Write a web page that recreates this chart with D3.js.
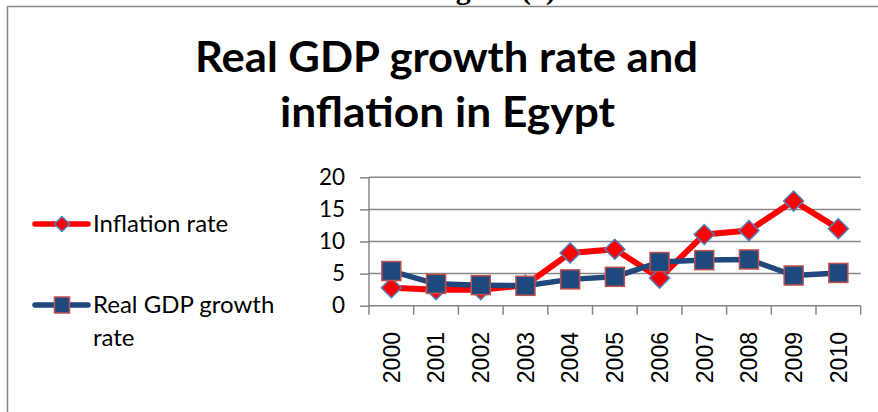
<!DOCTYPE html>
<html>
<head>
<meta charset="utf-8">
<script src="https://cdn.jsdelivr.net/npm/d3@7"></script>
<style>
  html, body { margin: 0; padding: 0; background: #fff; }
  svg { display: block; }
</style>
</head>
<body>
<svg id="chart" width="878" height="412"></svg>
<script>
// Years on the category axis
const years = ["2000", "2001", "2002", "2003", "2004", "2005", "2006", "2007", "2008", "2009", "2010"];
// Annual inflation rate (%)
const inflation = [2.8, 2.5, 2.5, 3.2, 8.2, 8.8, 4.3, 11.1, 11.7, 16.3, 12.0];
// Real GDP growth rate (%)
const gdpGrowth = [5.4, 3.4, 3.2, 3.1, 4.1, 4.5, 6.8, 7.1, 7.2, 4.7, 5.1];
// Value axis ticks
const yTicks = [0, 5, 10, 15, 20];
// Series names for the legend
const seriesNames = ["Inflation rate", "Real GDP growth rate"];
const titleLines = ["Real GDP growth rate and", "inflation in Egypt"];

const svg = d3.select("#chart");
const W = 878, H = 412;

const GRID = "#868686";
const RED = "#FF0000", BLUE = "#1F497D";
const DIAMOND_EDGE = "#4F81BD", SQUARE_EDGE = "#C0504D";
const sans = "Lato, 'Open Sans', sans-serif";

// Caption above the chart frame (mostly cut off at the top edge)
svg.append("text")
  .attr("x", 429).attr("y", -1.5)
  .attr("font-family", "'Liberation Serif', 'Times New Roman', serif")
  .attr("font-weight", "bold")
  .attr("font-size", 30)
  .text("Figure (1)");

// Chart frame: top and left edges
svg.append("path")
  .attr("d", `M7.5,${H} L7.5,6.5 L${W},6.5`)
  .attr("fill", "none").attr("stroke", GRID).attr("stroke-width", 1.5);

// Title, two centred lines set to a fixed width
const titleSpecs = [{ cx: 446.5, y: 72, w: 503 }, { cx: 447.5, y: 127, w: 335 }];
titleLines.forEach((line, i) => {
  const s = titleSpecs[i];
  svg.append("text")
    .attr("x", s.cx).attr("y", s.y)
    .attr("text-anchor", "middle")
    .attr("font-family", sans).attr("font-weight", "bold")
    .attr("font-size", 42)
    .attr("textLength", s.w).attr("lengthAdjust", "spacingAndGlyphs")
    .attr("fill", "#000")
    .text(line);
});

// Scales
const x = d3.scaleBand().domain(years).range([369, 860.7]).padding(0);
const y = d3.scaleLinear().domain([0, 20]).range([305.7, 177.3]);

// Horizontal gridlines
svg.append("g").selectAll("line").data(yTicks.filter(d => d > 0)).join("line")
  .attr("x1", 369).attr("x2", 860.7)
  .attr("y1", d => y(d)).attr("y2", d => y(d))
  .attr("stroke", GRID).attr("stroke-width", 1.5);

// Value axis
const yAxis = svg.append("g")
  .attr("transform", "translate(369,0)")
  .call(d3.axisLeft(y).tickValues(yTicks).tickSize(9).tickPadding(15).tickFormat(d3.format("d")));
yAxis.select(".domain").attr("stroke", GRID).attr("stroke-width", 1.5).attr("d", `M0,${y(20)}V${y(0)}`);
yAxis.selectAll(".tick line").attr("stroke", GRID).attr("stroke-width", 1.5);
yAxis.selectAll(".tick text")
  .attr("font-family", sans).attr("font-size", 22.5).attr("fill", "#000");

// Category axis with ticks between categories
const boundaries = years.map(d => x(d)).concat([x.range()[1]]);
const xAxis = svg.append("g");
xAxis.append("line")
  .attr("x1", 369).attr("x2", 860.7).attr("y1", y(0)).attr("y2", y(0))
  .attr("stroke", GRID).attr("stroke-width", 1.5);
xAxis.selectAll("line.tk").data(boundaries).join("line").attr("class", "tk")
  .attr("x1", d => d).attr("x2", d => d)
  .attr("y1", y(0)).attr("y2", y(0) + 9)
  .attr("stroke", GRID).attr("stroke-width", 1.5);
xAxis.selectAll("text").data(years).join("text")
  .attr("transform", d => `translate(${x(d) + x.bandwidth() / 2},332) rotate(-90)`)
  .attr("text-anchor", "end")
  .attr("dy", "0.36em")
  .attr("font-family", "'Liberation Sans', Arial, sans-serif")
  .attr("font-size", 23).attr("fill", "#000")
  .text(d => d);

const cx = (d, i) => x(years[i]) + x.bandwidth() / 2;
const line = d3.line().x((d, i) => cx(d, i)).y(d => y(d));

const diamond = s => `M0,${-s}L${s},0L0,${s}L${-s},0Z`;

// Inflation series
svg.append("path").datum(inflation)
  .attr("d", line).attr("fill", "none")
  .attr("stroke", RED).attr("stroke-width", 6).attr("stroke-linejoin", "round").attr("stroke-linecap", "round");
svg.append("g").selectAll("path").data(inflation).join("path")
  .attr("transform", (d, i) => `translate(${cx(d, i)},${y(d)})`)
  .attr("d", diamond(10))
  .attr("fill", RED).attr("stroke", DIAMOND_EDGE).attr("stroke-width", 1.5);

// Real GDP growth series
svg.append("path").datum(gdpGrowth)
  .attr("d", line).attr("fill", "none")
  .attr("stroke", BLUE).attr("stroke-width", 5.5).attr("stroke-linejoin", "round").attr("stroke-linecap", "round");
svg.append("g").selectAll("rect").data(gdpGrowth).join("rect")
  .attr("x", (d, i) => cx(d, i) - 9.5).attr("y", d => y(d) - 9.5)
  .attr("width", 19).attr("height", 19)
  .attr("fill", BLUE).attr("stroke", SQUARE_EDGE).attr("stroke-width", 1.5);

// Legend
const legend = svg.append("g");
const legendRows = [
  { y: 224, color: RED, marker: "diamond", lines: [seriesNames[0]] },
  { y: 305, color: BLUE, marker: "square", lines: ["Real GDP growth", "rate"] }
];
legendRows.forEach(r => {
  legend.append("line")
    .attr("x1", 35).attr("x2", 88).attr("y1", r.y).attr("y2", r.y)
    .attr("stroke", r.color).attr("stroke-width", 5.5).attr("stroke-linecap", "round");
  if (r.marker === "diamond") {
    legend.append("path").attr("transform", `translate(62,${r.y})`)
      .attr("d", diamond(7.5))
      .attr("fill", RED).attr("stroke", DIAMOND_EDGE).attr("stroke-width", 1.5);
  } else {
    legend.append("rect").attr("x", 54.5).attr("y", r.y - 8).attr("width", 15).attr("height", 16)
      .attr("fill", BLUE).attr("stroke", SQUARE_EDGE).attr("stroke-width", 1.5);
  }
  const t = legend.append("text")
    .attr("x", 93).attr("y", r.y + 8)
    .attr("font-family", sans).attr("font-size", 24).attr("fill", "#000");
  r.lines.forEach((l, k) => {
    t.append("tspan").attr("x", 93).attr("dy", k === 0 ? 0 : 33).text(l);
  });
});
</script>
</body>
</html>
